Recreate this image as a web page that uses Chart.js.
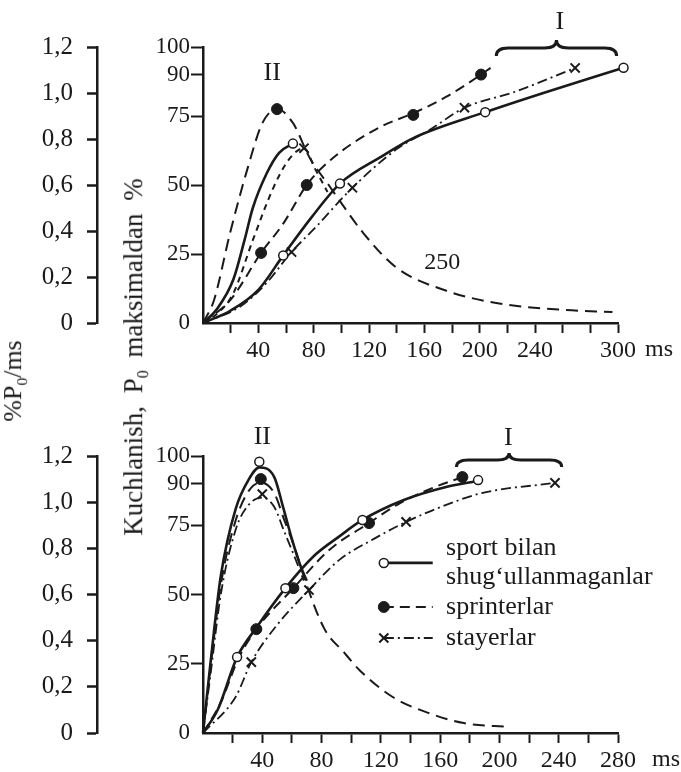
<!DOCTYPE html>
<html lang="uz">
<head>
<meta charset="UTF-8">
<title>Kuchlanish</title>
<script src="https://cdn.jsdelivr.net/npm/chart.js"></script>
<style>
  body { margin: 0; background: #fff; }
  #wrap { position: relative; width: 681px; height: 772px; }
  canvas { position: absolute; left: 0; }
  #topChart { top: 0; }
  #botChart { top: 380px; }
  .vtitle { position: absolute; transform: translate(-50%, -50%) rotate(-90deg); white-space: nowrap;
            font-family: 'Liberation Serif', serif; color: #1a1a1a; line-height: 1; }
  .vtitle sub { font-size: 60%; }
</style>
</head>
<body>
<div id="wrap">
  <canvas id="topChart" width="681" height="380"></canvas>
  <canvas id="botChart" width="681" height="392"></canvas>
  <div class="vtitle" style="left:15px; top:381px; font-size:26px;">%P<sub>0</sub>/ms</div>
  <div class="vtitle" style="left:136px; top:357px; font-size:27px; word-spacing:6px;">Kuchlanish, P<sub>0</sub> maksimaldan %</div>
</div>
<script>
// ---- data: force in % of P0 max (right axis), rate in %P0/ms (left axis), x in ms ----
const topXLabels = [40, 80, 120, 160, 200, 240, 300];
const botXLabels = [40, 80, 120, 160, 200, 240, 280];
const forceTicks = [0, 25, 50, 75, 90, 100];
const rateTicks = [0, 0.2, 0.4, 0.6, 0.8, 1.0, 1.2];
const groupNames = [['sport bilan', 'shug‘ullanmaganlar'], ['sprinterlar'], ['stayerlar']];

// top panel
const topForceNon = [[0,0],[20,4.5],[40,12],[58,24.5],[78,38],[99,50.5],[128,60],[152,67],[204,76.4],[250,84],[304,92.5]];
const topForceNonMarks = [[58,24.5],[99,50.5],[204,76.4],[304,92.5]];
const topForceSpr = [[0,0],[20,8.5],[42,25.4],[58,36],[75,50],[92,59],[128,71],[152,76],[176,82],[201,90],[208,92.5]];
const topForceSprMarks = [[42,25.4],[75,50],[152,75.4],[201,90]];
const topForceSta = [[0,0],[27,6],[45,14],[64,25.7],[82,35],[108,49],[140,63],[164,70],[189,78],[224,83.5],[269,92.4]];
const topForceStaMarks = [[64,25.7],[108,49],[189,78],[269,92.4]];
const topRateNon = [[0,0],[10,0.06],[22,0.19],[30,0.36],[36,0.5],[46,0.65],[55,0.74],[65,0.78]];
const topRateNonMarks = [[65,0.78]];
const topRateSpr = [[0,0],[8,0.1],[19.5,0.39],[32.6,0.68],[43,0.87],[53.5,0.93],[65,0.87],[77,0.72],[92,0.59],[99,0.53],[116,0.39],[140,0.24],[176,0.14],[212,0.087],[260,0.057],[296,0.048]];
const topRateSprMarks = [[53.5,0.93]];
const topRateSta = [[0,0],[12,0.05],[22,0.13],[36,0.36],[51,0.59],[62,0.71],[73,0.76],[81,0.67],[90,0.57]];
const topRateStaMarks = [[73,0.76]];

// bottom panel
const botForceNon = [[0,0],[10,8.5],[23,27.4],[36,38],[55.6,52.3],[75,64],[92,71],[107.6,76.9],[135,84],[164,88.8],[185.6,91]];
const botForceNonMarks = [[23,27.4],[55.6,52.3],[107.6,76.9],[185.6,91.3]];
const botForceSpr = [[0,0],[12,11],[24,27],[36,37.5],[61,52.3],[85,66],[112,75.8],[133,83],[155,88.5],[175,92.4]];
const botForceSprMarks = [[36,37.5],[61,52.3],[112,75.8],[175,92.4]];
const botForceSta = [[0,0],[22,13],[32.6,25.6],[50,39],[71.5,51.6],[92,62.5],[115,70],[137,76.2],[160,81.5],[188,86.6],[237.5,90.3]];
const botForceStaMarks = [[32.6,25.6],[71.5,51.6],[137,76.2],[237.5,90.3]];
const botRateNon = [[0,0],[5,0.3],[12,0.68],[22,0.97],[31,1.1],[38,1.15],[48,1.11],[54,0.98],[60,0.84],[66,0.72],[70,0.66]];
const botRateNonMarks = [[38,1.175]];
const botRateSpr = [[0,0],[5,0.28],[12,0.64],[22,0.92],[31,1.05],[39,1.085],[48,1.04],[55,0.92],[62,0.8],[70,0.64],[82,0.45],[95,0.35],[106,0.27],[128,0.156],[152,0.087],[176,0.043],[207,0.026]];
const botRateSprMarks = [[39,1.1]];
const botRateSta = [[0,0],[5,0.25],[12,0.6],[22,0.88],[31,0.99],[40,1.02],[48,0.98],[55,0.87],[62,0.76],[68,0.66]];
const botRateStaMarks = [[40,1.035]];

const INK = '#1a1a1a';
const SERIF = "'Liberation Serif', 'DejaVu Serif', serif";
const CLEAR = 'rgba(0,0,0,0)';

const styles = {
  non: { dash: [], width: 2.6, point: 'circle', radius: 4.5, fill: '#fff', pbw: 1.5 },
  spr: { dash: [10, 6], width: 2, point: 'circle', radius: 5.5, fill: INK, pbw: 1 },
  sta: { dash: [10, 4, 2, 4], width: 1.8, point: 'crossRot', radius: 6.5, fill: INK, pbw: 2 }
};

const xy = pts => pts.map(p => ({ x: p[0], y: p[1] }));

function lineSet(pts, axis, st, dash) {
  return {
    data: xy(pts), yAxisID: axis, borderColor: INK, borderWidth: st.width,
    borderDash: dash || st.dash, pointRadius: 0, fill: false,
    cubicInterpolationMode: 'monotone', clip: false, order: 2
  };
}
function markSet(pts, axis, st) {
  return {
    data: xy(pts), yAxisID: axis, showLine: false, pointStyle: st.point,
    pointRadius: st.radius, pointBackgroundColor: st.fill, pointBorderColor: INK,
    pointBorderWidth: st.pbw, clip: false, order: 1
  };
}

function drawBrace(ctx, x1, x2, y, h) {
  const xm = (x1 + x2) / 2, r = 12;
  ctx.lineWidth = 3;
  ctx.setLineDash([]);
  ctx.beginPath();
  ctx.moveTo(x1, y + h);
  ctx.quadraticCurveTo(x1, y, x1 + r, y);
  ctx.lineTo(xm - r, y);
  ctx.quadraticCurveTo(xm, y, xm, y - h);
  ctx.quadraticCurveTo(xm, y, xm + r, y);
  ctx.lineTo(x2 - r, y);
  ctx.quadraticCurveTo(x2, y, x2, y + h);
  ctx.stroke();
}

function drawMarker(ctx, st, x, y) {
  ctx.setLineDash([]);
  if (st.point === 'crossRot') {
    const d = st.radius * 0.7;
    ctx.lineWidth = 2;
    ctx.beginPath();
    ctx.moveTo(x - d, y - d); ctx.lineTo(x + d, y + d);
    ctx.moveTo(x - d, y + d); ctx.lineTo(x + d, y - d);
    ctx.stroke();
  } else {
    ctx.beginPath();
    ctx.arc(x, y, st.radius, 0, Math.PI * 2);
    ctx.fillStyle = st.fill; ctx.fill();
    ctx.lineWidth = st.pbw; ctx.stroke();
    ctx.fillStyle = INK;
  }
}

function notesPlugin(cfg) {
  return {
    id: 'notes',
    afterDatasetsDraw(chart) {
      const ctx = chart.ctx, xs = chart.scales.x, ys = chart.scales.y;
      ctx.save();
      ctx.fillStyle = INK; ctx.strokeStyle = INK;
      ctx.textAlign = 'center'; ctx.textBaseline = 'middle';
      cfg.texts.forEach(t => {
        ctx.font = t.size + 'px ' + SERIF;
        ctx.fillText(t.text, xs.getPixelForValue(t.x), ys.getPixelForValue(t.y));
      });
      const b = cfg.brace;
      drawBrace(ctx, xs.getPixelForValue(b.x1), xs.getPixelForValue(b.x2), ys.getPixelForValue(b.y), b.h);
      ctx.font = '24px ' + SERIF;
      ctx.fillText('ms', xs.right + cfg.msDx, xs.top + 27);
      if (cfg.legend) {
        const L = cfg.legend;
        const lx1 = xs.getPixelForValue(L.x1), lx2 = xs.getPixelForValue(L.x2), tx = xs.getPixelForValue(L.tx);
        ctx.textAlign = 'left';
        ctx.font = L.size + 'px ' + SERIF;
        L.rows.forEach((row, i) => {
          const st = row.style, sy = ys.getPixelForValue(row.symY);
          ctx.lineWidth = st.width;
          ctx.setLineDash(st.dash);
          ctx.beginPath(); ctx.moveTo(lx1, sy); ctx.lineTo(lx2, sy); ctx.stroke();
          drawMarker(ctx, st, lx1, sy);
          groupNames[i].forEach((txt, k) => ctx.fillText(txt, tx, ys.getPixelForValue(row.ys[k])));
        });
      }
      ctx.restore();
    }
  };
}

function makeChart(id, cfg) {
  const tickCol = c => (c.tick && c.tick.value === 0) ? CLEAR : INK;
  return new Chart(document.getElementById(id), {
    type: 'line',
    data: { datasets: cfg.datasets },
    options: {
      responsive: false,
      animation: false,
      layout: { padding: { top: cfg.padTop, right: 63, left: 0, bottom: 0 } },
      plugins: { legend: { display: false }, tooltip: { enabled: false } },
      scales: {
        x: {
          type: 'linear', position: 'bottom', min: 0, max: cfg.xMax,
          afterFit: s => { s.height = cfg.xHeight; },
          border: { display: true, color: INK, width: 2.5 },
          grid: { drawOnChartArea: false, tickLength: 10, tickWidth: 2, tickColor: tickCol },
          ticks: {
            stepSize: 20, autoSkip: false, maxRotation: 0, padding: 3, color: INK,
            font: { family: SERIF, size: 24 },
            callback: v => cfg.xLabels.includes(v) ? String(v) : ''
          }
        },
        y: {
          type: 'linear', position: 'left', min: 0, max: 100, weight: 0,
          afterFit: s => { s.width = 106; },
          afterBuildTicks: s => { s.ticks = forceTicks.map(v => ({ value: v })); },
          border: { display: true, color: INK, width: 2.5 },
          grid: { drawOnChartArea: false, tickLength: 12, tickWidth: 2, tickColor: tickCol },
          ticks: { padding: 1, color: INK, font: { family: SERIF, size: 23 }, callback: v => String(v) }
        },
        rate: {
          axis: 'y', type: 'linear', position: 'left', min: 0, max: 1.2, weight: 1,
          afterFit: s => { s.width = 97; },
          afterBuildTicks: s => { s.ticks = rateTicks.map(v => ({ value: v })); },
          border: { display: true, color: INK, width: 2.5 },
          grid: { drawOnChartArea: false, tickLength: 10, tickWidth: 2.5, tickColor: INK },
          ticks: {
            padding: 14, color: INK, font: { family: SERIF, size: 25 },
            callback: v => v === 0 ? '0' : v.toFixed(1).replace('.', ',')
          }
        }
      }
    },
    plugins: [notesPlugin(cfg)]
  });
}

makeChart('topChart', {
  xMax: 300, xLabels: topXLabels, padTop: 47, xHeight: 57, msDx: 41,
  datasets: [
    markSet(topForceNonMarks, 'y', styles.non),
    markSet(topForceSprMarks, 'y', styles.spr),
    markSet(topForceStaMarks, 'y', styles.sta),
    markSet(topRateNonMarks, 'rate', styles.non),
    markSet(topRateSprMarks, 'rate', styles.spr),
    markSet(topRateStaMarks, 'rate', styles.sta),
    lineSet(topForceNon, 'y', styles.non),
    lineSet(topForceSpr, 'y', styles.spr),
    lineSet(topForceSta, 'y', styles.sta),
    lineSet(topRateNon, 'rate', styles.non),
    lineSet(topRateSpr, 'rate', styles.spr, [12, 7]),
    lineSet(topRateSta, 'rate', styles.spr, [6, 5])
  ],
  texts: [
    { text: 'II', x: 50, y: 90.6, size: 26 },
    { text: 'I', x: 258, y: 109, size: 26 },
    { text: '250', x: 173, y: 21.7, size: 24 }
  ],
  brace: { x1: 212, x2: 299, y: 99.6, h: 8 }
});

makeChart('botChart', {
  xMax: 280, xLabels: botXLabels, padTop: 76, xHeight: 39, msDx: 48,
  datasets: [
    markSet(botForceNonMarks, 'y', styles.non),
    markSet(botForceSprMarks, 'y', styles.spr),
    markSet(botForceStaMarks, 'y', styles.sta),
    markSet(botRateNonMarks, 'rate', styles.non),
    markSet(botRateSprMarks, 'rate', styles.spr),
    markSet(botRateStaMarks, 'rate', styles.sta),
    lineSet(botForceNon, 'y', styles.non),
    lineSet(botForceSpr, 'y', styles.spr),
    lineSet(botForceSta, 'y', styles.sta),
    lineSet(botRateNon, 'rate', styles.non),
    lineSet(botRateSpr, 'rate', styles.spr, [12, 7]),
    lineSet(botRateSta, 'rate', styles.sta)
  ],
  texts: [
    { text: 'II', x: 40, y: 106.9, size: 26 },
    { text: 'I', x: 206, y: 106.5, size: 26 }
  ],
  brace: { x1: 171, x2: 242, y: 98.6, h: 7 },
  legend: {
    x1: 122, x2: 155, tx: 164, size: 26,
    rows: [
      { style: styles.non, symY: 61.4, ys: [66.8, 56.3] },
      { style: styles.spr, symY: 45.5, ys: [45.5] },
      { style: styles.sta, symY: 34.3, ys: [34.3] }
    ]
  }
});
</script>
</body>
</html>
